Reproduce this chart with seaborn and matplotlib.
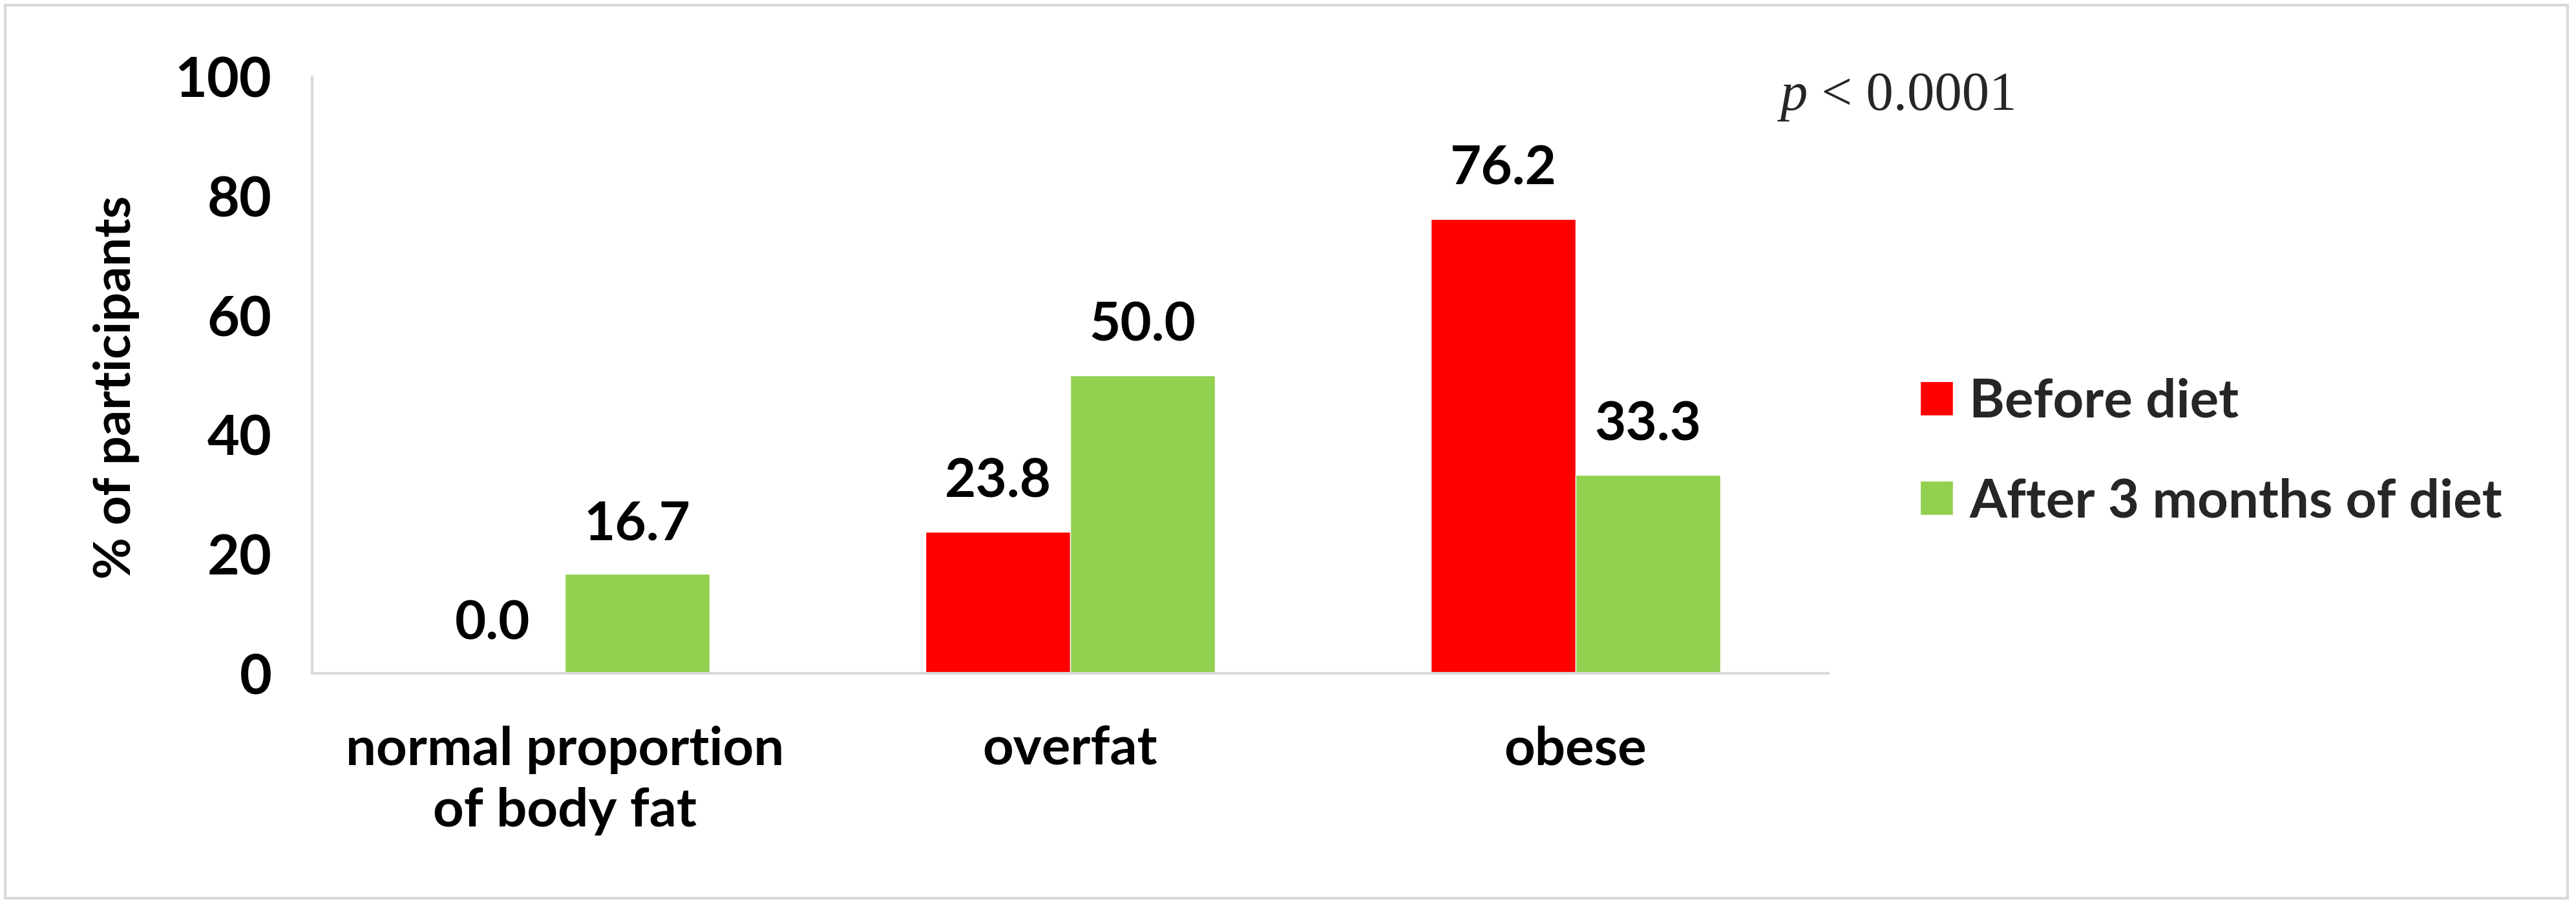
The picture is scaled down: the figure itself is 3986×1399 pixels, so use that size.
import pandas as pd
import seaborn as sns
import matplotlib
matplotlib.use("Agg")
import matplotlib.pyplot as plt
from matplotlib.patches import Rectangle

categories = ["normal proportion\nof body fat", "overfat", "obese"]
groups = ["Before diet", "After 3 months of diet"]
before_diet = [0.0, 23.8, 76.2]
after_diet = [16.7, 50.0, 33.3]
colors = ["#FF0000", "#92D050"]

df = pd.DataFrame({
    "category": categories * 2,
    "group": [groups[0]] * 3 + [groups[1]] * 3,
    "value": before_diet + after_diet,
})

sns.set_theme(style="white")
plt.rcParams["font.family"] = ["Lato", "DejaVu Sans"]
plt.rcParams["font.weight"] = "bold"

fig = plt.figure(figsize=(39.86, 13.99), dpi=100)
ax = fig.add_axes([0.1212, 0.255, 0.5885, 0.660])

sns.barplot(data=df, x="category", y="value", hue="group", order=categories,
            hue_order=groups, palette=colors, width=0.572, saturation=1,
            ax=ax, legend=True)

for cont in ax.containers:
    ax.bar_label(cont, fmt="%.1f", padding=28, fontsize=60, fontweight="bold",
                 color="black")

ax.set_ylim(0, 100)
ax.set_xlim(-0.5, 2.5)
ax.set_yticks([0, 20, 40, 60, 80, 100])
ax.tick_params(axis="y", length=0, pad=45, labelsize=62)
ax.tick_params(axis="x", length=0, pad=58, labelsize=60)
for lab in ax.get_xticklabels() + ax.get_yticklabels():
    lab.set_fontweight("bold")
    lab.set_color("black")
for lab in ax.get_xticklabels():
    lab.set_linespacing(1.33)

ax.set_xlabel("")
ax.set_ylabel("% of participants", fontsize=57, fontweight="bold", color="black")
ax.yaxis.set_label_coords(-0.114, 0.48)

for side in ["top", "right"]:
    ax.spines[side].set_visible(False)
for side in ["left", "bottom"]:
    ax.spines[side].set_color("#D9D9D9")
    ax.spines[side].set_linewidth(3)

handles, labels = ax.get_legend_handles_labels()
ax.get_legend().remove()
fig.legend(handles, labels, loc="center left", bbox_to_anchor=(0.7454, 0.5),
           frameon=False, handlelength=0.61, handleheight=0.61,
           handletextpad=0.3, labelspacing=0.95, borderpad=0, borderaxespad=0,
           prop={"weight": "bold", "size": 60})

# p-value note: italic p followed by the rest in upright serif
serif = ["Liberation Serif", "DejaVu Serif"]
p_txt = fig.text(0.6912, 0.8785, "p", fontsize=61, family=serif,
                 style="italic", fontweight="normal", va="baseline", ha="left")
ax.annotate(" < 0.0001", xy=(1, 0), xycoords=p_txt, fontsize=61, family=serif,
            fontweight="normal", va="bottom", ha="left", annotation_clip=False)

fig.patches.append(Rectangle((0.002, 0.0064), 0.9947, 0.988,
                             transform=fig.transFigure, fill=False,
                             edgecolor="#D9D9D9", linewidth=3))

fig.savefig("out.png", dpi=100)
